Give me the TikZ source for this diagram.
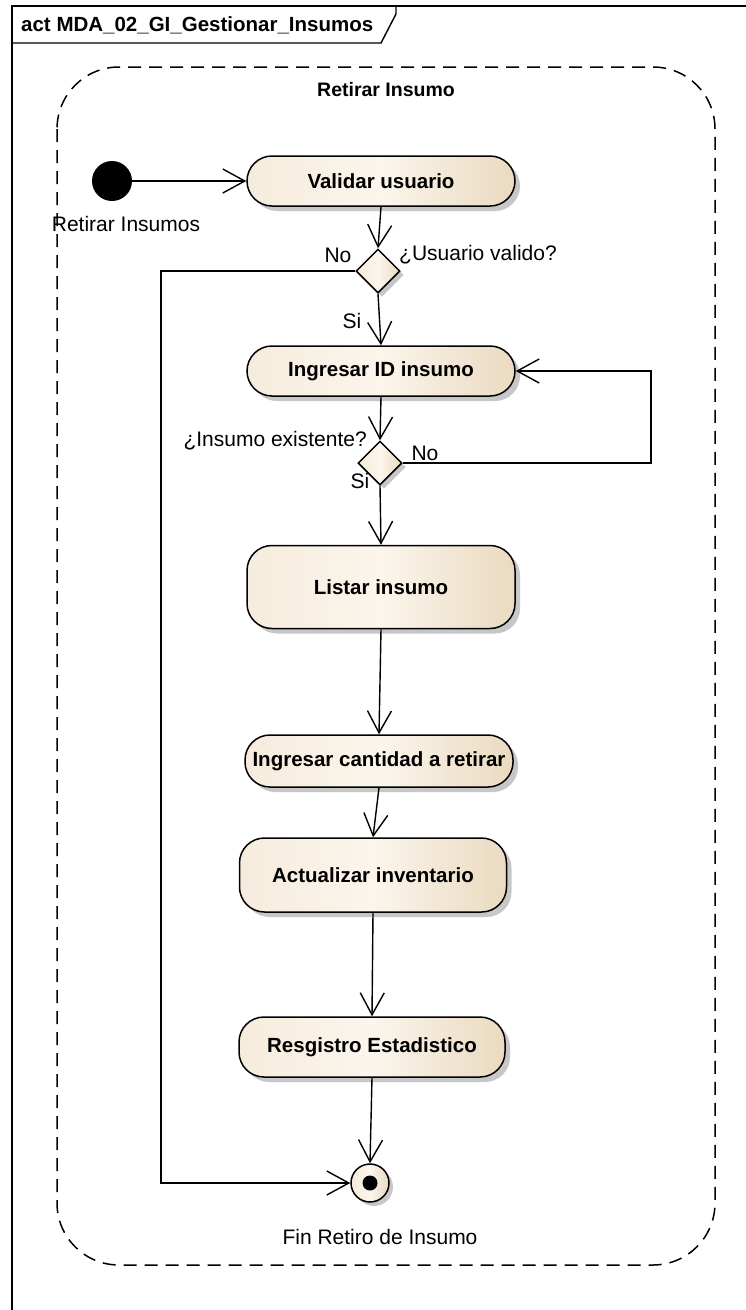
\documentclass[tikz,border=0pt]{standalone}
\usepackage{fontspec}
\setmainfont{Liberation Sans}
\usetikzlibrary{arrows.meta,shapes.geometric,shadows,calc}
\definecolor{creamL}{HTML}{F6ECDD}
\definecolor{creamM}{HTML}{FBF5EC}
\definecolor{creamR}{HTML}{EADAC0}
\tikzset{
  every node/.style={font=\fontsize{20.5}{24}\selectfont, inner sep=0pt},
  conn/.style={line width=1.4pt, -{Straight Barb[length=22pt,width=24pt,line width=1.4pt]}},
  line/.style={line width=1.4pt},
  actbox/.style={rectangle, rounded corners=25pt, draw=black, line width=1.5pt,
     left color=creamL, right color=creamR, middle color=creamM,
     minimum width=268pt, minimum height=50pt, font=\fontsize{20.5}{24}\selectfont\bfseries,
     drop shadow={shadow xshift=5pt, shadow yshift=-5pt, fill=black!22, opacity=1}},
  decis/.style={diamond, draw=black, line width=1.5pt, left color=creamL, right color=creamR,
     middle color=creamM, minimum width=44pt, minimum height=44pt, aspect=1,
     drop shadow={shadow xshift=4pt, shadow yshift=-4pt, fill=black!22, opacity=1}},
  lbl/.style={font=\fontsize{21}{24}\selectfont},
}
\begin{document}
\begin{tikzpicture}[x=1pt,y=-1pt]
\useasboundingbox (0,0) rectangle (746,1310);
\fill[white] (0,0) rectangle (746,1310);
% frame
\draw[line width=1.8pt] (12,1310) -- (12,6) -- (746,6);
\draw[line width=1.4pt] (396,6) -- (396,14) -- (381,43) -- (12,43);
\node[anchor=west, font=\fontsize{20.5}{24}\selectfont\bfseries] (title) at (21,25) {act MDA\_02\_GI\_Gestionar\_Insumos};
% region
\draw[line width=1.5pt, dash pattern=on 13pt off 8pt, rounded corners=62pt] (57,67) rectangle (715,1265);
\node[font=\fontsize{19.5}{24}\selectfont\bfseries] (region) at (386,90) {Retirar Insumo};
% nodes
\node[circle, fill=black, minimum size=40pt] (init) at (112,181) {};
\node[lbl] (initlbl) at (126,224) {Retirar Insumos};
\node[actbox] (validar) at (381,181) {Validar usuario};
\node[decis] (d1) at (378,271) {};
\node[actbox] (ingid) at (381,371) {Ingresar ID insumo};
\node[decis] (d2) at (380,463) {};
\node[actbox, minimum height=83pt] (listar) at (381,587) {Listar insumo};
\node[actbox, minimum height=52pt] (cant) at (379,761) {Ingresar cantidad a retirar};
\node[actbox, minimum width=267pt, minimum height=74pt] (actual) at (373,875) {Actualizar inventario};
\node[actbox, minimum width=266pt, minimum height=60pt] (reg) at (372,1047) {Resgistro Estadistico};
\node[circle, draw=black, line width=1.5pt, left color=creamL, right color=creamR, middle color=creamM,
      minimum size=38pt,
      drop shadow={shadow xshift=4pt, shadow yshift=-4pt, fill=black!22, opacity=1}] (fin) at (370,1183) {};
\node[circle, fill=black, minimum size=15pt] (findot) at (fin.center) {};
\node[lbl] (finlbl) at (380,1237) {Fin Retiro de Insumo};
% labels
\node[lbl] (q1) at (478,255) {¿Usuario valido?};
\node[lbl] (no1) at (338,255) {No};
\node[lbl] (si1) at (352,321) {Si};
\node[lbl, anchor=east] (q2) at (367,441) {¿Insumo existente?};
\node[lbl] (no2) at (425,453) {No};
\node[lbl] (si2) at (360,481) {Si};
% connectors
\coordinate (c1) at (161,271);
\coordinate (c2) at (651,463);
\coordinate (c3) at (651,371);
\draw[conn] (init) -- (validar);
\draw[conn] (validar.south) -- (d1.north);
\draw[conn] (d1.south) -- (ingid.north);
\draw[conn] (d1.west) -- (c1) |- (fin.west);
\draw[conn] (ingid.south) -- (d2.north);
\draw[conn] (d2.east) -- (c2) -- (c3) -- (ingid.east);
\draw[conn] (d2.south) -- (listar.north);
\draw[conn] (listar.south) -- (cant.north);
\draw[conn] (cant.south) -- (actual.north);
\draw[conn] (actual.south) -- (reg.north);
\draw[conn] (reg.south) -- (fin.north);
\end{tikzpicture}
\end{document}
